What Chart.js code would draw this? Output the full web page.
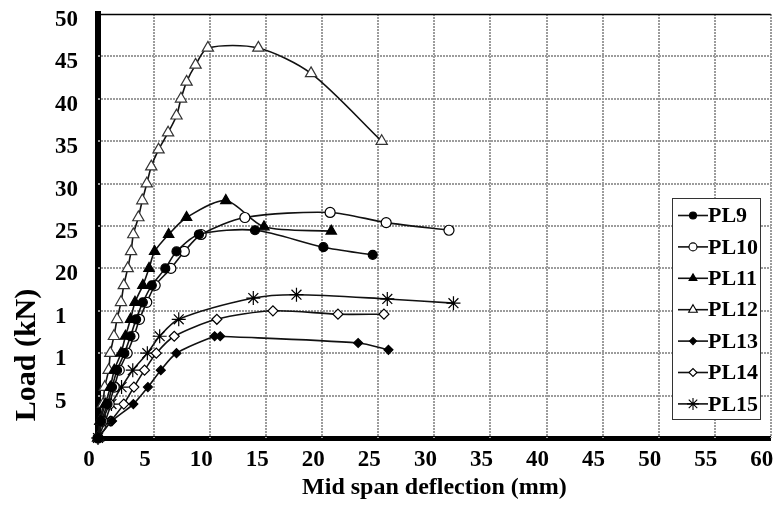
<!DOCTYPE html>
<html>
<head>
<meta charset="utf-8">
<script src="https://cdn.jsdelivr.net/npm/chart.js@4.4.1/dist/chart.umd.min.js"></script>
<style>
  html, body { margin: 0; padding: 0; background: #fff; }
  #wrap { width: 779px; height: 506px; position: relative; }
</style>
</head>
<body>
<div id="wrap"><canvas id="loadChart"></canvas></div>
<script>
// mid span deflection (mm) / load (kN) per slab
const seriesNames = ['PL9', 'PL10', 'PL11', 'PL12', 'PL13', 'PL14', 'PL15'];

const pl9X = [0, 0.3, 0.85, 1.25, 1.7, 2.35, 2.9, 3.4, 4.0, 4.8, 6.0, 7.0, 9.0, 14.0, 20.1, 24.5];
const pl9Y = [0, 2, 4, 6, 8, 10, 12, 14, 16, 18, 20, 22, 24, 24.5, 22.5, 21.6];

const pl10X = [0, 0.4, 1.0, 1.45, 1.9, 2.6, 3.2, 3.7, 4.35, 5.1, 6.5, 7.7, 9.2, 13.1, 20.7, 25.7, 31.3];
const pl10Y = [0, 2, 4, 6, 8, 10, 12, 14, 16, 18, 20, 22, 24, 26, 26.6, 25.4, 24.5];

const pl11X = [0, 0.2, 0.65, 1.1, 1.45, 2.05, 2.45, 2.9, 3.3, 4.0, 4.55, 5.05, 6.3, 7.9, 11.4, 14.8, 20.8];
const pl11Y = [0, 2, 4, 6, 8, 10, 12, 14, 16, 18, 20, 22, 24, 26, 28, 24.9, 24.4];

const pl12X = [0, 0.2, 0.45, 0.6, 0.95, 1.1, 1.42, 1.7, 2.05, 2.3, 2.65, 2.95, 3.15, 3.6, 3.95, 4.35, 4.75, 5.4, 6.25, 7.0, 7.4, 7.9, 8.7, 9.8, 14.3, 19.0, 25.3];
const pl12Y = [0, 2, 4, 6, 8, 10, 12, 14, 16, 18, 20, 22, 24, 26, 28, 30, 32, 34, 36, 38, 40, 42, 44, 46, 46, 43, 35];

const pl13X = [0, 1.25, 3.15, 4.45, 5.6, 7.0, 10.4, 10.9, 23.2, 25.9];
const pl13Y = [0, 2, 4, 6, 8, 10, 12, 12, 11.2, 10.4];

const pl14X = [0, 1.15, 2.3, 3.2, 4.15, 5.2, 6.8, 10.6, 15.6, 21.4, 25.5];
const pl14Y = [0, 2, 4, 6, 8, 10, 12, 14, 15, 14.6, 14.6];

const pl15X = [0, 0.65, 1.2, 2.1, 3.1, 4.4, 5.5, 7.2, 13.85, 17.7, 25.8, 31.7];
const pl15Y = [0, 2, 4, 6, 8, 10, 12, 14, 16.5, 16.9, 16.4, 15.9];

// load axis labels, one per 5 kN step starting at 0
const yTickLabels = ['', '5', '1', '1', '20', '25', '30', '35', '40', '45', '50'];

const xs = [pl9X, pl10X, pl11X, pl12X, pl13X, pl14X, pl15X];
const ys = [pl9Y, pl10Y, pl11Y, pl12Y, pl13Y, pl14Y, pl15Y];

const markers = [
  { style: 'circle',   radius: 4.5, fill: '#000', legendRadius: 3.5 },
  { style: 'circle',   radius: 5,   fill: '#fff', legendRadius: 4 },
  { style: 'triangle', radius: 6,   fill: '#000', legendRadius: 4.5 },
  { style: 'triangle', radius: 6.5, fill: '#fff', legendRadius: 5 },
  { style: 'rectRot',  radius: 4.5, fill: '#000', legendRadius: 3.5 },
  { style: 'rectRot',  radius: 5,   fill: '#fff', legendRadius: 4 },
  { style: 'star',     radius: 7,   fill: '#000', legendRadius: 6 }
];

const serif = '"Liberation Serif", "DejaVu Serif", serif';
const gridGrey = '#9c9c9c';

const datasets = seriesNames.map((name, i) => ({
  label: name,
  data: xs[i].map((x, j) => ({ x: x, y: ys[i][j] })),
  borderColor: '#111',
  borderWidth: 1.6,
  tension: 0.28,
  pointStyle: markers[i].style,
  pointRadius: markers[i].radius,
  pointBackgroundColor: markers[i].fill,
  pointBorderColor: i === 3 ? '#333' : '#000',
  pointBorderWidth: 1.2,
  clip: false
}));

// dotted grid, top frame line, y title and boxed legend
const extras = {
  id: 'extras',
  beforeDatasetsDraw(chart) {
    const ctx = chart.ctx;
    const area = chart.chartArea;
    const x = chart.scales.x, y = chart.scales.y;
    ctx.save();
    ctx.strokeStyle = gridGrey;
    ctx.lineWidth = 2;
    ctx.setLineDash([2, 1]);
    for (let v = 5; v <= 60; v += 5) {
      const px = Math.round(x.getPixelForValue(v));
      ctx.beginPath();
      ctx.moveTo(px, area.top);
      ctx.lineTo(px, area.bottom);
      ctx.stroke();
    }
    for (let v = 5; v < 50; v += 5) {
      const py = Math.round(y.getPixelForValue(v));
      ctx.beginPath();
      ctx.moveTo(area.left, py);
      ctx.lineTo(area.right, py);
      ctx.stroke();
    }
    ctx.setLineDash([]);
    ctx.strokeStyle = '#000';
    ctx.lineWidth = 1.5;
    const topY = Math.round(y.getPixelForValue(50)) + 0.5;
    ctx.beginPath();
    ctx.moveTo(area.left, topY);
    ctx.lineTo(area.right, topY);
    ctx.stroke();
    ctx.restore();
  },
  afterDraw(chart) {
    const ctx = chart.ctx;
    ctx.save();
    ctx.fillStyle = '#000';
    ctx.font = 'bold 30px ' + serif;
    ctx.textAlign = 'center';
    ctx.textBaseline = 'middle';
    ctx.translate(27, 355);
    ctx.rotate(-Math.PI / 2);
    ctx.fillText('Load (kN)', 0, 0);
    ctx.restore();

    const left = 672.5, top = 198.5, w = 88, h = 221, rowH = 31.4;
    ctx.save();
    ctx.fillStyle = '#fff';
    ctx.fillRect(left, top, w, h);
    ctx.strokeStyle = '#333';
    ctx.lineWidth = 1;
    ctx.strokeRect(left, top, w, h);
    ctx.font = 'bold 22px ' + serif;
    ctx.textBaseline = 'middle';
    ctx.textAlign = 'left';
    seriesNames.forEach((name, i) => {
      const y = top + 17 + i * rowH;
      ctx.strokeStyle = '#111';
      ctx.lineWidth = 1.6;
      ctx.beginPath();
      ctx.moveTo(678, y);
      ctx.lineTo(708, y);
      ctx.stroke();
      ctx.fillStyle = markers[i].fill;
      ctx.strokeStyle = '#000';
      ctx.lineWidth = 1.1;
      Chart.helpers.drawPoint(ctx, {
        pointStyle: markers[i].style,
        radius: markers[i].legendRadius,
        rotation: 0,
        borderWidth: 1.1
      }, 693, y);
      ctx.fillStyle = '#000';
      ctx.fillText(name, 708, y + 1);
    });
    ctx.restore();
  }
};

new Chart(document.getElementById('loadChart'), {
  type: 'line',
  data: { datasets: datasets },
  options: {
    responsive: true,
    maintainAspectRatio: false,
    animation: false,
    layout: { padding: { left: 55, right: 2, top: 14, bottom: 0 } },
    plugins: {
      legend: { display: false },
      tooltip: { enabled: false }
    },
    scales: {
      x: {
        type: 'linear',
        min: 0,
        max: 60,
        afterFit(scale) {
          scale.height = 68;
          scale.paddingLeft = 0;
          scale.paddingRight = 0;
        },
        ticks: {
          stepSize: 5,
          padding: 8,
          labelOffset: -9,
          color: '#000',
          font: { family: serif, size: 23, weight: 'bold' }
        },
        grid: { display: false, drawTicks: false },
        border: { color: '#000', width: 5 },
        title: {
          display: true,
          text: 'Mid span deflection (mm)',
          color: '#000',
          font: { family: serif, size: 24, weight: 'bold' },
          padding: { top: 0, bottom: 4 }
        }
      },
      y: {
        type: 'linear',
        min: 0,
        max: 50,
        afterFit(scale) {
          scale.width = 43;
          scale.paddingTop = 0;
          scale.paddingBottom = 0;
        },
        ticks: {
          stepSize: 5,
          padding: 17,
          crossAlign: 'far',
          labelOffset: 6,
          color: '#000',
          font: { family: serif, size: 23, weight: 'bold' },
          callback: (value, index) => yTickLabels[index]
        },
        grid: { display: false, drawTicks: false },
        border: { color: '#000', width: 6 }
      }
    }
  },
  plugins: [extras]
});
</script>
</body>
</html>
